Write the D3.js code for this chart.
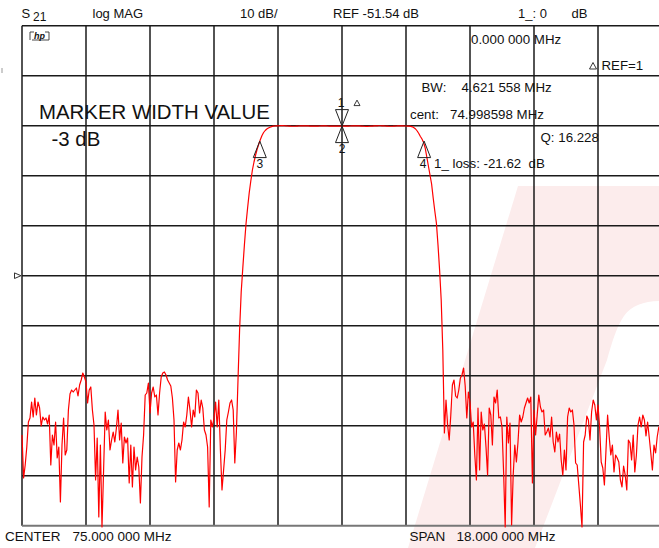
<!DOCTYPE html>
<html>
<head>
<meta charset="utf-8">
<script src="https://cdn.jsdelivr.net/npm/d3@7"></script>
<style>
  html, body { margin: 0; padding: 0; background: #fff; }
  svg { display: block; font-family: "Liberation Sans", Arial, sans-serif; }
  text { fill: #111; white-space: pre; }
</style>
</head>
<body>
<div id="chart"></div>
<script>
// sweep settings
const centerMHz = 75
const spanMHz = 18
const sweepPoints = 401
const refLevel = -51.54
const dbPerDiv = 10
const xDivisions = 10
const yDivisions = 10

// S21 trace, dB, one value per sweep point
const traceDb = [
  -83.4, -92.0, -89.4, -85.8, -80.8, -80.0, -76.8, -79.8, -76.0, -79.4,
  -76.8, -78.0, -81.6, -79.8, -80.4, -80.0, -81.2, -79.4, -89.4, -83.4,
  -85.4, -80.8, -88.0, -85.8, -96.8, -85.4, -80.0, -87.4, -86.4, -78.4,
  -75.2, -74.4, -74.8, -74.4, -74.0, -75.6, -73.4, -72.4, -71.0, -71.8,
  -72.8, -77.0, -74.4, -73.8, -78.4, -81.4, -92.4, -84.0, -99.8, -85.4,
  -101.8, -90.4, -78.8, -82.4, -80.4, -86.4, -84.4, -82.8, -84.8, -82.0,
  -78.4, -84.4, -81.0, -89.0, -83.8, -85.0, -84.0, -93.0, -85.4, -93.8,
  -85.8, -90.4, -87.8, -89.8, -97.0, -87.8, -83.4, -75.4, -75.0, -73.0,
  -79.0, -75.0, -73.8, -75.8, -75.4, -79.4, -75.0, -71.8, -71.0, -70.8,
  -71.4, -72.4, -73.0, -73.6, -76.0, -80.4, -92.8, -86.4, -85.0, -86.4,
  -84.4, -80.8, -81.8, -79.4, -75.8, -78.4, -81.8, -78.4, -79.8, -74.4,
  -75.0, -79.0, -76.4, -78.0, -82.4, -83.4, -85.8, -97.8, -80.4, -81.8,
  -80.0, -76.8, -81.8, -76.4, -86.4, -94.4, -90.4, -86.4, -80.4, -78.8,
  -77.0, -76.4, -78.4, -89.0, -82.8, -72.4, -62.4, -54.8, -50.0, -45.4,
  -41.2, -38.0, -35.0, -32.6, -30.4, -28.8, -27.4, -26.2, -25.2, -24.3,
  -23.5, -22.9, -22.5, -22.2, -22.0, -21.84, -21.72, -21.64, -21.6, -21.58,
  -21.56, -21.55, -21.54, -21.54, -21.55, -21.57, -21.6, -21.62, -21.64, -21.65,
  -21.65, -21.64, -21.62, -21.6, -21.58, -21.57, -21.56, -21.56, -21.57, -21.59,
  -21.61, -21.63, -21.64, -21.64, -21.63, -21.62, -21.6, -21.59, -21.58, -21.58,
  -21.59, -21.6, -21.61, -21.62, -21.62, -21.62, -21.61, -21.61, -21.62, -21.62,
  -21.62, -21.63, -21.63, -21.62, -21.61, -21.6, -21.58, -21.57, -21.56, -21.56,
  -21.57, -21.59, -21.61, -21.63, -21.65, -21.66, -21.66, -21.65, -21.63, -21.61,
  -21.59, -21.57, -21.56, -21.55, -21.55, -21.56, -21.58, -21.6, -21.62, -21.64,
  -21.65, -21.65, -21.64, -21.62, -21.6, -21.59, -21.58, -21.58, -21.59, -21.6,
  -21.6, -21.61, -21.62, -21.68, -21.76, -21.96, -22.2, -22.6, -23.1, -23.7,
  -24.2, -24.9, -26.0, -27.8, -29.6, -31.4, -33.2, -36.0, -38.6, -41.0,
  -45.4, -50.4, -56.4, -66.4, -83.0, -76.4, -81.4, -84.4, -79.4, -73.4,
  -72.4, -75.6, -76.0, -74.4, -72.0, -71.4, -70.0, -73.6, -80.0, -74.8,
  -76.8, -81.8, -80.8, -87.4, -92.4, -78.0, -90.4, -78.8, -82.4, -81.2,
  -85.8, -91.4, -78.0, -79.4, -85.4, -75.8, -77.0, -74.4, -80.0, -79.8,
  -81.8, -90.8, -101.8, -79.8, -85.0, -81.0, -101.4, -91.4, -85.4, -88.8,
  -84.8, -79.4, -80.8, -79.8, -78.0, -77.0, -76.0, -77.0, -75.8, -93.0,
  -78.4, -83.4, -79.4, -75.4, -77.8, -78.8, -78.4, -83.4, -82.8, -82.0,
  -83.8, -79.8, -84.8, -86.8, -82.8, -84.8, -83.2, -88.4, -91.4, -86.4,
  -90.4, -79.8, -78.0, -78.8, -78.4, -81.4, -89.0, -89.4, -93.4, -97.4,
  -101.8, -84.8, -83.4, -79.6, -80.4, -84.4, -78.8, -76.4, -77.4, -80.4,
  -77.4, -81.8, -88.8, -90.0, -93.4, -86.4, -79.4, -83.8, -87.4, -85.4,
  -90.8, -87.4, -88.0, -88.8, -92.4, -93.8, -89.6, -91.4, -94.4, -84.4,
  -85.0, -88.4, -83.4, -90.8, -87.4, -81.4, -79.8, -81.8, -79.4, -80.4,
  -83.6, -80.8, -83.8, -87.0, -90.4, -85.4, -87.0, -83.8, -81.8, -82.4,
  -82.0
]

// markers: 1 = reference (delta), 2 = center, 3/4 = -3 dB edges
const markerIds = ['1', '2', '3', '4']
const markerFreqs = [75.0, 75.0, 72.687819, 77.309377]
const markerDb = [-21.62, -21.62, -24.62, -24.62]

// screen annotations
const headerTexts = ['log MAG', '10 dB/', 'REF -51.54 dB', '1_: 0', 'dB']
const readoutTexts = ['0.000 000 MHz', 'REF=1', 'BW:', '4.621 558 MHz', 'cent:', '74.998598 MHz', 'Q: 16.228', '1_ loss: -21.62  dB']
const widthTexts = ['MARKER WIDTH VALUE', '-3 dB']
const footerTexts = ['CENTER', '75.000 000 MHz', 'SPAN', '18.000 000 MHz']

// ----- layout -----
const width = 659
const height = 548
const plot = { left: 22, top: 25.7, width: 640, height: 500 }

const startMHz = centerMHz - spanMHz / 2
const stopMHz = centerMHz + spanMHz / 2
const topDb = refLevel + dbPerDiv * yDivisions / 2
const bottomDb = refLevel - dbPerDiv * yDivisions / 2

const xScale = d3.scaleLinear().domain([startMHz, stopMHz]).range([plot.left, plot.left + plot.width])
const yScale = d3.scaleLinear().domain([bottomDb, topDb]).range([plot.top + plot.height, plot.top])

const svg = d3.select('#chart').append('svg').attr('width', width).attr('height', height)

// faint watermark in the background
svg.append('path')
  .attr('d', 'M408,548 L518,186 L662,186 L662,301 C645,301 632,305 624,316 C617,326 612,342 607,360 L535,548 Z')
  .attr('fill', '#fcecec')

// grid
const grid = svg.append('g').attr('class', 'grid')
const xTicks = d3.range(xDivisions + 1).map(k => startMHz + k * spanMHz / xDivisions)
const yTicks = d3.range(yDivisions + 1).map(k => bottomDb + k * dbPerDiv)

grid.selectAll('.vline').data(xTicks).enter().append('line')
  .attr('class', 'vline')
  .attr('x1', d => xScale(d)).attr('x2', d => xScale(d))
  .attr('y1', yScale(topDb)).attr('y2', yScale(bottomDb))
  .attr('stroke', '#1a1a1a')
  .attr('stroke-width', 1.5)

grid.selectAll('.hline').data(yTicks).enter().append('line')
  .attr('class', 'hline')
  .attr('x1', xScale(startMHz)).attr('x2', xScale(stopMHz))
  .attr('y1', d => yScale(d)).attr('y2', d => yScale(d))
  .attr('stroke', (d, i) => i === 0 ? '#777' : '#1a1a1a')
  .attr('stroke-width', (d, i) => i === 0 ? 2 : 1.5)

// reference position marker on the left
const yRef = yScale(refLevel)
svg.append('path')
  .attr('d', `M14.5,${yRef - 2.8} L21,${yRef} L14.5,${yRef + 2.8} Z`)
  .attr('fill', 'none').attr('stroke', '#333').attr('stroke-width', 1)
svg.append('line').attr('x1', 2).attr('x2', 2).attr('y1', 68).attr('y2', 73)
  .attr('stroke', '#999').attr('stroke-width', 1)

// hp logo
const logo = svg.append('g').attr('transform', 'translate(30 32)')
logo.append('path').attr('d', 'M0,8 L0,0 L4,0 M15,0 L19,0 L19,8 L2,8')
  .attr('fill', 'none').attr('stroke', '#333').attr('stroke-width', 0.9)
logo.append('text').attr('x', 9.5).attr('y', 7).attr('text-anchor', 'middle')
  .style('font-size', '9px').style('font-style', 'italic').style('font-weight', 'bold').text('hp')

// trace
const freqs = d3.range(sweepPoints).map(i => startMHz + i * spanMHz / (sweepPoints - 1))
const line = d3.line().x((d, i) => xScale(freqs[i])).y(d => yScale(d))
svg.append('path')
  .datum(traceDb)
  .attr('d', line)
  .attr('fill', 'none')
  .attr('stroke', '#ff0000')
  .attr('stroke-width', 1.2)
  .attr('stroke-linejoin', 'round')

// markers
const triW = 6.5
const triH = 16.5
const mk = svg.append('g').attr('class', 'markers')
markerIds.forEach((id, i) => {
  const mx = xScale(markerFreqs[i])
  const my = yScale(markerDb[i])
  const down = id === '1'
  const by = down ? my - triH : my + triH
  mk.append('path')
    .attr('d', `M${mx},${my} L${mx - triW},${by} L${mx + triW},${by} Z`)
    .attr('fill', 'none').attr('stroke', '#222').attr('stroke-width', 1)
  if (down) {
    mk.append('text').attr('x', mx - 1).attr('y', by - 3).attr('text-anchor', 'middle')
      .style('font-size', '12px').text(id)
    mk.append('path')
      .attr('d', `M${mx + 12},${by - 4} L${mx + 15},${by - 9.5} L${mx + 18},${by - 4} Z`)
      .attr('fill', 'none').attr('stroke', '#222').attr('stroke-width', 0.9)
  } else {
    mk.append('text').attr('x', id === '4' ? mx - 1 : mx).attr('y', by + 10.5).attr('text-anchor', 'middle')
      .style('font-size', '12px').text(id)
  }
})

// header line
svg.append('text').attr('x', 21.5).attr('y', 18.3).style('font-size', '13px').text('S')
svg.append('text').attr('x', 33).attr('y', 20.8).style('font-size', '12px').text('21')
const headerX = [92.5, 240, 333, 518, 571.5]
headerTexts.forEach((t, i) => {
  svg.append('text').attr('x', headerX[i]).attr('y', 18.3).style('font-size', '13px').text(t)
})

// marker readouts
const readoutPos = [[471, 44], [601.5, 69.5], [421.5, 91.7], [461.5, 91.7], [410, 118.5], [450, 118.5], [540.5, 141.7], [434, 168.3]]
readoutTexts.forEach((t, i) => {
  svg.append('text').attr('x', readoutPos[i][0]).attr('y', readoutPos[i][1]).style('font-size', '13.3px').text(t)
})
svg.append('path').attr('d', 'M589.5,69 L593,62.5 L596.5,69 Z')
  .attr('fill', 'none').attr('stroke', '#222').attr('stroke-width', 0.9)

// marker width annotation
svg.append('text').attr('x', 39).attr('y', 119.3).style('font-size', '20.4px').text(widthTexts[0])
svg.append('text').attr('x', 51.5).attr('y', 146).style('font-size', '20.4px').text(widthTexts[1])

// footer
const footerX = [5, 72.5, 409.5, 456.5]
footerTexts.forEach((t, i) => {
  svg.append('text').attr('x', footerX[i]).attr('y', 541).style('font-size', '13.5px').text(t)
})
</script>
</body>
</html>
